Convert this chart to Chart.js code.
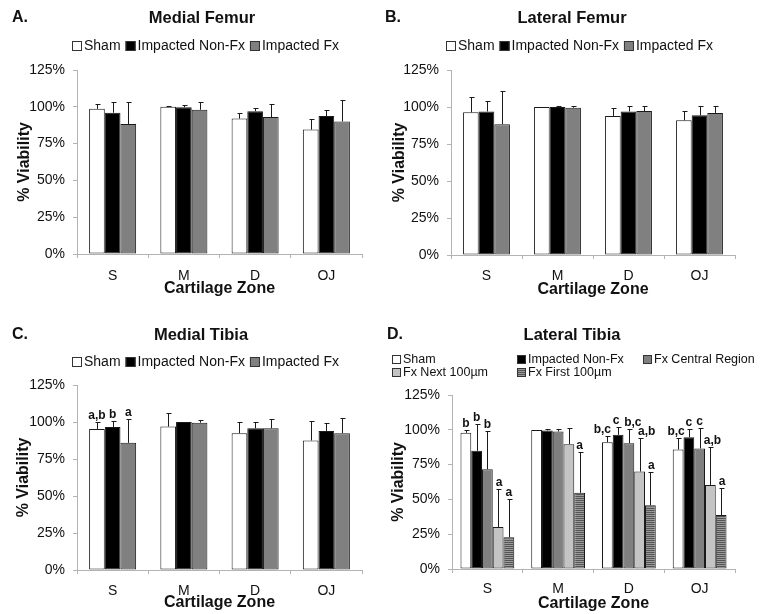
<!DOCTYPE html>
<html><head><meta charset="utf-8">
<script src="https://cdn.jsdelivr.net/npm/chart.js@4"></script>
<style>
body{margin:0;background:#fff;width:760px;height:614px;overflow:hidden;position:relative}
.p{position:absolute}
</style></head><body>
<div class="p" style="left:0;top:0"><canvas id="cA" width="380" height="316"></canvas></div>
<div class="p" style="left:380px;top:0"><canvas id="cB" width="380" height="316"></canvas></div>
<div class="p" style="left:0;top:316px"><canvas id="cC" width="380" height="298"></canvas></div>
<div class="p" style="left:380px;top:316px"><canvas id="cD" width="380" height="298"></canvas></div>
<script>
const categories = ['S', 'M', 'D', 'OJ'];
const yTicks = [0, 25, 50, 75, 100, 125];
const yTickLabels = ['0%', '25%', '50%', '75%', '100%', '125%'];
const xTitle = 'Cartilage Zone';
const yTitle = '% Viability';

// A. Medial Femur
const mfSham = [98.6, 100, 92, 84.5];
const mfShamErr = [3.2, 0.3, 4, 7.5];
const mfNonFx = [96, 99.7, 97, 93.7];
const mfNonFxErr = [7, 1.3, 2, 4.3];
const mfFx = [88.3, 98, 93, 90];
const mfFxErr = [15.3, 5.4, 9, 14.5];

// B. Lateral Femur
const lfSham = [96.4, 100, 94, 91];
const lfShamErr = [10.1, 0.2, 5, 6.5];
const lfNonFx = [97, 100, 97, 94.4];
const lfNonFxErr = [7, 0.5, 3.5, 6.6];
const lfFx = [88.3, 99.5, 97.3, 96];
const lfFxErr = [22.7, 1.3, 3.2, 5];

// C. Medial Tibia
const mtSham = [95.3, 96.9, 92.4, 87.5];
const mtShamErr = [4.9, 9.1, 7.8, 13.2];
const mtNonFx = [96.6, 100, 95.7, 94];
const mtNonFxErr = [3.8, 0.3, 4.5, 5.3];
const mtFx = [85.9, 99.5, 95.7, 92.4];
const mtFxErr = [16.3, 1.8, 6.3, 10.6];
const mtShamSig = ['a,b', '', '', ''];
const mtNonFxSig = ['b', '', '', ''];
const mtFxSig = ['a', '', '', ''];

// D. Lateral Tibia
const ltSham = [97.8, 99.8, 91.1, 85.9];
const ltShamErr = [1.7, 0.4, 4.8, 8.3];
const ltNonFx = [84.9, 99.5, 96.4, 94.7];
const ltNonFxErr = [19.4, 1.0, 5.3, 5.8];
const ltCentral = [71.7, 98.8, 90.4, 86.6];
const ltCentralErr = [27.6, 1.7, 10.3, 14.4];
const ltNext = [30.2, 89.7, 70, 60.4];
const ltNextErr = [27.4, 11.5, 24.2, 27.1];
const ltFirst = [22.8, 54.7, 45.8, 38.8];
const ltFirstErr = [27.8, 29.2, 24.2, 19.5];
const ltShamSig = ['b', '', 'b,c', 'b,c'];
const ltNonFxSig = ['b', '', 'c', 'c'];
const ltCentralSig = ['b', '', 'b,c', 'c'];
const ltNextSig = ['a', '', 'a,b', 'a,b'];
const ltFirstSig = ['a', 'a', 'a', 'a'];

const FAM = '"Liberation Sans", Arial, sans-serif';
const INK = '#111';
const AXIS = '#b3b3b3';
const EDGE = '#1a1a1a';

function stripePattern() {
  const c = document.createElement('canvas'); c.width = 4; c.height = 2;
  const x = c.getContext('2d');
  x.fillStyle = '#9a9a9a'; x.fillRect(0, 0, 4, 2);
  x.fillStyle = '#555555'; x.fillRect(0, 0, 4, 1);
  return x.createPattern(c, 'repeat');
}
const stripes = stripePattern();

function ds(label, data, err, color, sig) {
  return { label, data, err, sig: sig || null, backgroundColor: color, borderColor: EDGE,
           borderWidth: 1, borderSkipped: false, barPercentage: 1 };
}

const decor = {
  id: 'decor',
  afterDatasetsDraw(chart, args, o) {
    const ctx = chart.ctx, ys = chart.scales.y;
    ctx.save();
    chart.data.datasets.forEach((d, i) => {
      const meta = chart.getDatasetMeta(i);
      meta.data.forEach((bar, j) => {
        const top = Math.round(ys.getPixelForValue(d.data[j] + d.err[j])) + 0.5;
        const bx = Math.round(bar.x) + 0.5;
        ctx.strokeStyle = EDGE; ctx.lineWidth = 1;
        ctx.beginPath();
        ctx.moveTo(bx, bar.y); ctx.lineTo(bx, top);
        ctx.moveTo(bx - 2, top); ctx.lineTo(bx + 3, top);
        ctx.stroke();
        if (d.sig && d.sig[j]) {
          const dx = (o.sigShift && o.sigShift[i]) ? o.sigShift[i][j] : 0;
          ctx.fillStyle = INK; ctx.font = 'bold 12px ' + FAM;
          ctx.textAlign = 'center'; ctx.textBaseline = 'alphabetic';
          ctx.fillText(d.sig[j], bar.x + dx, top - 4);
        }
      });
    });
    ctx.restore();
  },
  afterDraw(chart, args, o) {
    const ctx = chart.ctx;
    ctx.save();
    ctx.fillStyle = INK; ctx.textBaseline = 'middle';
    ctx.font = 'bold 16px ' + FAM; ctx.textAlign = 'left';
    ctx.fillText(o.letter, o.letterX, o.headY);
    ctx.font = 'bold 16.5px ' + FAM; ctx.textAlign = 'center';
    ctx.fillText(o.title, o.titleX, o.headY);
    const L = o.legend;
    ctx.font = L.size + 'px ' + FAM; ctx.textAlign = 'left';
    let x = L.x;
    chart.data.datasets.forEach((d, i) => {
      let bx, by;
      if (L.cols) { bx = L.cols[i % L.cols.length]; by = L.rows[Math.floor(i / L.cols.length)]; }
      else { bx = x; by = L.y; }
      const bs = L.box;
      ctx.fillStyle = d.backgroundColor;
      ctx.fillRect(bx, Math.round(by - bs / 2), bs, bs);
      ctx.strokeStyle = '#333'; ctx.lineWidth = 1;
      ctx.strokeRect(bx + 0.5, Math.round(by - bs / 2) + 0.5, bs - 1, bs - 1);
      ctx.fillStyle = INK;
      ctx.fillText(d.label, bx + bs + 2, by + 0.5);
      x = bx + bs + 2 + ctx.measureText(d.label).width + 5;
    });
    ctx.restore();
  }
};

function build(id, W, H, datasets, L, catPct) {
  datasets.forEach(d => d.categoryPercentage = catPct);
  new Chart(document.getElementById(id), {
    type: 'bar',
    data: { labels: categories, datasets },
    options: {
      responsive: false, animation: false, devicePixelRatio: 1,
      layout: { padding: { left: 0, top: L.top, right: W - L.right, bottom: H - L.bottom - L.xh } },
      plugins: { legend: { display: false }, title: { display: false }, tooltip: { enabled: false },
                 decor: L.decor },
      scales: {
        x: {
          grid: { drawOnChartArea: false, tickLength: 4, color: AXIS },
          border: { color: AXIS },
          ticks: { font: { size: 14, family: FAM }, color: INK, padding: L.xpad },
          title: { display: true, text: xTitle, font: { size: 16, weight: 'bold', family: FAM }, color: INK, padding: 0 },
          afterFit: s => { s.height = L.xh; }
        },
        y: {
          min: yTicks[0], max: yTicks[yTicks.length - 1],
          afterBuildTicks: s => { s.ticks = yTicks.map(v => ({ value: v })); },
          ticks: { font: { size: 14, family: FAM }, color: INK, padding: 8,
                   callback: v => yTickLabels[yTicks.indexOf(v)] },
          grid: { drawOnChartArea: false, tickLength: 4, color: AXIS },
          border: { color: AXIS },
          title: { display: true, text: yTitle, font: { size: 16, weight: 'bold', family: FAM }, color: INK, padding: { top: L.ytp, bottom: 0 } },
          afterFit: s => { s.width = L.left; }
        }
      }
    },
    plugins: [decor]
  });
}

const WHITE = '#ffffff', BLACK = '#000000', GRAY = '#808080', LIGHT = '#c4c4c4';

build('cA', 380, 316, [
  ds('Sham', mfSham, mfShamErr, WHITE),
  ds('Impacted Non-Fx', mfNonFx, mfNonFxErr, BLACK),
  ds('Impacted Fx', mfFx, mfFxErr, GRAY)
], { left: 77, right: 362, top: 70, bottom: 254, xh: 44, xpad: 10, ytp: 15,
     decor: { letter: 'A.', letterX: 12, headY: 18, title: 'Medial Femur', titleX: 202,
              legend: { x: 72, y: 46, size: 14, box: 10 } } }, 0.66);

build('cB', 380, 316, [
  ds('Sham', lfSham, lfShamErr, WHITE),
  ds('Impacted Non-Fx', lfNonFx, lfNonFxErr, BLACK),
  ds('Impacted Fx', lfFx, lfFxErr, GRAY)
], { left: 71, right: 355, top: 70, bottom: 255, xh: 44, xpad: 9, ytp: 10,
     decor: { letter: 'B.', letterX: 5, headY: 18, title: 'Lateral Femur', titleX: 192,
              legend: { x: 66, y: 46, size: 14, box: 10 } } }, 0.66);

build('cC', 380, 298, [
  ds('Sham', mtSham, mtShamErr, WHITE, mtShamSig),
  ds('Impacted Non-Fx', mtNonFx, mtNonFxErr, BLACK, mtNonFxSig),
  ds('Impacted Fx', mtFx, mtFxErr, GRAY, mtFxSig)
], { left: 77, right: 362, top: 69, bottom: 254, xh: 42, xpad: 9, ytp: 14,
     decor: { letter: 'C.', letterX: 12, headY: 19, title: 'Medial Tibia', titleX: 201,
              legend: { x: 72, y: 46, size: 14, box: 10 } } }, 0.66);

build('cD', 380, 298, [
  ds('Sham', ltSham, ltShamErr, WHITE, ltShamSig),
  ds('Impacted Non-Fx', ltNonFx, ltNonFxErr, BLACK, ltNonFxSig),
  ds('Fx Central Region', ltCentral, ltCentralErr, GRAY, ltCentralSig),
  ds('Fx Next 100µm', ltNext, ltNextErr, LIGHT, ltNextSig),
  ds('Fx First 100µm', ltFirst, ltFirstErr, stripes, ltFirstSig)
], { left: 72, right: 355, top: 79, bottom: 253, xh: 44, xpad: 8, ytp: 9,
     decor: { letter: 'D.', letterX: 7, headY: 19, title: 'Lateral Tibia', titleX: 192,
              legend: { cols: [12, 137, 263], rows: [43, 56], size: 12.5, box: 9 },
              sigShift: [[0, 0, -5, -2], [0, 0, -2, 0], [0, 0, 4, 0], [1, 0, 7, 2], [0, 0, 1, 1]] } }, 0.76);
</script>
</body></html>
